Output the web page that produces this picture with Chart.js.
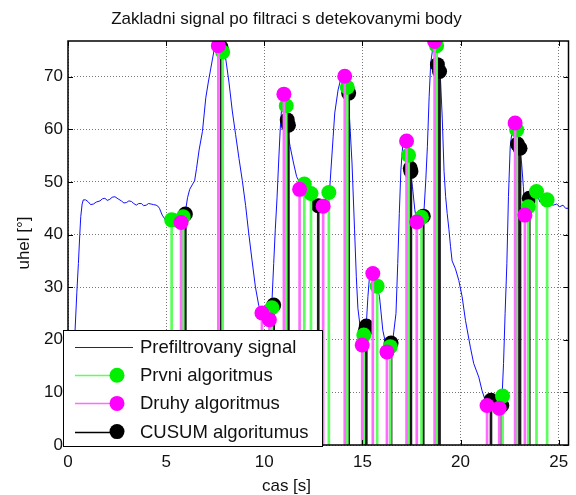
<!DOCTYPE html>
<html>
<head>
<meta charset="utf-8">
<script src="https://cdn.jsdelivr.net/npm/chart.js@4.4.1/dist/chart.umd.min.js"></script>
<style>
  html, body { margin: 0; padding: 0; background: #fff; }
</style>
</head>
<body>
<canvas id="chart" width="576" height="495"></canvas>
<script>
// Prefiltered signal: time [s] and angle [deg]
const sigTime = [
  0.05, 0.2, 0.36, 0.45, 0.53, 0.6, 0.65, 0.72, 0.78, 0.9,
  1.04, 1.15, 1.29, 1.45, 1.63, 1.75, 1.88, 2.0, 2.13, 2.25,
  2.39, 2.55, 2.72, 2.85, 2.98, 3.1, 3.23, 3.35, 3.48, 3.6,
  3.74, 3.85, 3.99, 4.1, 4.24, 4.35, 4.49, 4.58, 4.66, 4.8,
  5.0, 5.15, 5.3, 5.45, 5.6, 5.76, 5.9, 6.0, 6.09, 6.2,
  6.35, 6.45, 6.55, 6.68, 6.85, 7.02, 7.15, 7.27, 7.44, 7.6,
  7.72, 7.85, 8.03, 8.2, 8.37, 8.54, 8.71, 8.88, 9.05, 9.2,
  9.38, 9.55, 9.72, 9.88, 10.05, 10.2, 10.32, 10.4, 10.48, 10.56,
  10.65, 10.73, 10.81, 10.9, 10.98, 11.05, 11.15, 11.32, 11.49, 11.65,
  11.82, 11.95, 12.08, 12.2, 12.33, 12.45, 12.58, 12.75, 12.88, 13.0,
  13.1, 13.17, 13.34, 13.42, 13.51, 13.59, 13.76, 13.93, 14.1, 14.2,
  14.27, 14.35, 14.47, 14.6, 14.69, 14.77, 14.9, 15.0, 15.1, 15.2,
  15.28, 15.36, 15.5, 15.6, 15.75, 15.87, 16.04, 16.2, 16.3, 16.42,
  16.55, 16.71, 16.8, 16.88, 16.96, 17.05, 17.2, 17.3, 17.42, 17.55,
  17.67, 17.77, 17.9, 18.05, 18.14, 18.23, 18.31, 18.4, 18.48, 18.62,
  18.7, 18.82, 18.98, 19.07, 19.16, 19.24, 19.32, 19.41, 19.49, 19.57,
  19.74, 19.91, 20.08, 20.25, 20.5, 20.67, 20.93, 21.09, 21.3, 21.45,
  21.6, 21.8, 21.97, 22.1, 22.19, 22.27, 22.36, 22.44, 22.53, 22.65,
  22.78, 22.9, 23.03, 23.11, 23.2, 23.28, 23.36, 23.45, 23.6, 23.75,
  23.87, 24.04, 24.2, 24.41, 24.55, 24.72, 24.9, 25.05, 25.22, 25.35,
  25.5
];
const sigAngle = [
  0.5, 6, 21.8, 29, 34.5, 40, 43.4, 45.8, 46.6, 46.6,
  46.2, 45.7, 45.8, 46.2, 46.4, 46.8, 46.9, 46.5, 46.7, 47.1,
  47.2, 46.8, 46.4, 46.0, 46.1, 46.4, 46.3, 45.9, 45.6, 45.9,
  45.9, 45.5, 45.6, 45.9, 45.8, 45.7, 45.6, 45.4, 45.0, 43.7,
  42.6, 42.4, 43.3, 44.0, 43.4, 42.6, 43.6, 44.8, 47.0, 48.6,
  49.6, 50.2, 52.6, 56.1, 59.6, 66.0, 69.0, 71.5, 75.0, 76.0,
  76.3, 75.6, 73.6, 69.0, 63.5, 59.0, 54.5, 50.3, 45.5, 40.5,
  35.0, 30.0, 26.5, 25.0, 24.0, 23.7, 25.0, 28.0, 34.5, 40.9,
  47.0, 53.6, 59.9, 65.0, 66.9, 65.5, 60.5, 56.7, 53.6, 51.0,
  49.8, 49.5, 49.1, 48.6, 47.8, 47.0, 46.2, 45.6, 45.5, 45.6,
  46.3, 47.2, 49.1, 53.6, 58.6, 63.1, 67.5, 70.1, 70.7, 68.8,
  66.0, 61.8, 53.6, 40.9, 32.0, 26.0, 22.0, 19.3, 20.5, 23.0,
  28.2, 32.0, 32.8, 31.5, 30.0, 28.2, 21.8, 19.0, 17.9, 18.5,
  20.0, 25.0, 34.5, 44.0, 52.3, 56.7, 57.8, 56.0, 52.5, 49.1,
  44.7, 42.5, 42.8, 43.5, 44.7, 50.4, 56.7, 66.2, 72.6, 76.4,
  76.7, 74.0, 69.4, 62.0, 52.0, 47.2, 44.0, 40.9, 37.7, 35.0,
  33.5, 31.3, 28.2, 23.7, 18.6, 15.5, 12.9, 10.4, 8.0, 7.6,
  8.2, 7.5, 7.0, 8.0, 15.5, 25.0, 34.5, 47.2, 56.7, 60.5,
  61.0, 57.5, 56.0, 53.6, 49.1, 44.5, 44.0, 45.3, 47.5, 48.5,
  48.0, 46.2, 46.5, 46.4, 45.8, 45.6, 45.8, 45.3, 45.6, 45.0,
  45.0
];

// detected points
const prvniTime  = [5.28, 5.87, 7.88, 10.39, 11.12, 12.04, 12.38, 13.29, 14.23, 15.07,
                    15.75, 16.42, 17.35, 18.01, 18.78, 22.14, 22.86, 23.45, 23.87, 24.41];
const prvniAngle = [42.8, 43.4, 74.7, 26.1, 64.5, 49.6, 47.8, 48.0, 68.0, 20.9,
                    30.2, 18.7, 55.1, 43.3, 75.9, 9.3, 59.9, 45.3, 48.2, 46.6];

const druhyTime  = [5.76, 7.66, 9.88, 10.26, 11.0, 11.8, 13.0, 14.1, 14.99, 15.53,
                    16.25, 17.25, 17.77, 18.68, 21.35, 21.97, 22.78, 23.28];
const druhyAngle = [42.3, 75.9, 25.1, 23.8, 66.7, 48.6, 45.4, 70.1, 19.0, 32.6,
                    17.7, 57.8, 42.4, 76.7, 7.5, 7.0, 61.2, 43.7];

const cusumTime  = [5.98, 7.8, 10.48, 11.17, 11.23, 12.75, 14.3, 15.15, 15.2, 16.46,
                    17.44, 17.47, 18.1, 18.82, 18.93, 21.55, 22.1, 22.9, 23.03, 23.5];
const cusumAngle = [43.9, 75.6, 26.6, 61.8, 60.8, 45.5, 66.9, 21.8, 22.6, 19.4,
                    52.6, 52.0, 43.5, 72.3, 71.0, 8.5, 7.5, 57.2, 56.4, 46.9];

const xTicks = [0, 5, 10, 15, 20, 25];
const yTicks = [0, 10, 20, 30, 40, 50, 60, 70];
const seriesNames = ['Prefiltrovany signal', 'Prvni algoritmus', 'Druhy algoritmus', 'CUSUM algoritumus'];

const FONT = '"Liberation Sans", Arial, sans-serif';
Chart.defaults.font.family = FONT;
Chart.defaults.color = '#111';

const C_SIG = '#1010ff', C_G = '#00f000', C_M = '#ff00ff', C_K = '#000';

function pts(xs, ys) { return xs.map((x, i) => ({ x: x, y: ys[i] })); }

function stems(xs, ys, color, order) {
  return { type: 'bar', data: pts(xs, ys), backgroundColor: color, borderWidth: 0,
           barThickness: 2, grouped: false, order: order };
}
function marks(xs, ys, color, order) {
  return { type: 'scatter', data: pts(xs, ys), showLine: false, pointRadius: 7.5,
           pointHoverRadius: 7.5, pointBackgroundColor: color, pointBorderWidth: 0, order: order };
}

// box with inward ticks, matlab style
const axesBox = {
  id: 'axesBox',
  afterDatasetsDraw(chart) {
    const { ctx, chartArea: a, scales: { x, y } } = chart;
    ctx.save();
    ctx.strokeStyle = '#000';
    ctx.lineWidth = 1;
    ctx.beginPath();
    xTicks.forEach(v => {
      const px = Math.round(x.getPixelForValue(v)) + 0.5;
      ctx.moveTo(px, a.bottom); ctx.lineTo(px, a.bottom - 5);
      ctx.moveTo(px, a.top); ctx.lineTo(px, a.top + 5);
    });
    yTicks.forEach(v => {
      const py = Math.round(y.getPixelForValue(v)) + 0.5;
      ctx.moveTo(a.left, py); ctx.lineTo(a.left + 5, py);
      ctx.moveTo(a.right, py); ctx.lineTo(a.right - 5, py);
    });
    ctx.stroke();
    ctx.lineWidth = 1.5;
    ctx.strokeRect(a.left, a.top, a.right - a.left, a.bottom - a.top);
    ctx.restore();
  }
};

// legend in the lower left corner of the axes
const legendBox = {
  id: 'legendBox',
  afterDraw(chart) {
    const ctx = chart.ctx;
    const L = 63, T = 330, W = 259, H = 116;
    const colors = [C_SIG, '#5cff5c', '#ff6bff', C_K];
    const dots = [null, C_G, C_M, C_K];
    ctx.save();
    ctx.fillStyle = '#fff';
    ctx.fillRect(L, T, W, H);
    ctx.strokeStyle = '#000';
    ctx.lineWidth = 1;
    ctx.strokeRect(L + 0.5, T + 0.5, W, H);
    ctx.font = '18.5px ' + FONT;
    ctx.textBaseline = 'middle';
    seriesNames.forEach((name, i) => {
      const yy = T + 17 + i * 28.2;
      ctx.strokeStyle = colors[i];
      ctx.lineWidth = i === 0 ? 1 : 1.5;
      ctx.beginPath();
      ctx.moveTo(L + 12, Math.round(yy) + 0.5);
      ctx.lineTo(i === 0 ? L + 70 : L + 54, Math.round(yy) + 0.5);
      ctx.stroke();
      if (dots[i]) {
        ctx.fillStyle = dots[i];
        ctx.beginPath();
        ctx.arc(L + 54, yy, 7.5, 0, Math.PI * 2);
        ctx.fill();
      }
      ctx.fillStyle = '#111';
      ctx.fillText(name, L + 77, yy + 1);
    });
    ctx.restore();
  }
};

new Chart(document.getElementById('chart'), {
  type: 'scatter',
  data: {
    datasets: [
      { type: 'line', data: pts(sigTime, sigAngle), borderColor: C_SIG, borderWidth: 1,
        pointRadius: 0, tension: 0, order: 10 },
      stems(cusumTime, cusumAngle, '#1a1a1a', 9),
      marks(cusumTime, cusumAngle, C_K, 8),
      stems(prvniTime, prvniAngle, '#5cff5c', 7),
      marks(prvniTime, prvniAngle, C_G, 6),
      stems(druhyTime, druhyAngle, '#ff6bff', 5),
      marks(druhyTime, druhyAngle, C_M, 4)
    ]
  },
  options: {
    responsive: false, animation: false, events: [],
    layout: { padding: { left: 0, right: 3, top: 0, bottom: 0 } },
    plugins: {
      legend: { display: false },
      tooltip: { enabled: false },
      title: { display: true, text: 'Zakladni signal po filtraci s detekovanymi body',
        color: '#111', font: { size: 17, weight: 'normal' }, padding: { top: 9, bottom: 11.6 } },
      subtitle: { display: true, position: 'bottom', text: 'cas [s]', color: '#111',
        font: { size: 17, weight: 'normal', lineHeight: 1 }, padding: { top: 8, bottom: 0 } }
    },
    scales: {
      x: {
        type: 'linear', min: 0, max: 25.5, offset: false,
        afterBuildTicks: s => { s.ticks = xTicks.map(v => ({ value: v })); },
        afterFit: s => { s.height = 25; },
        ticks: { font: { size: 17 }, padding: 7, maxRotation: 0 },
        grid: { color: '#777', lineWidth: 1, drawTicks: false, offset: false },
        border: { display: false, dash: [1, 2] }
      },
      y: {
        type: 'linear', min: 0, max: 76.8,
        afterBuildTicks: s => { s.ticks = yTicks.map(v => ({ value: v })); },
        afterFit: s => { s.width = 68; },
        ticks: { font: { size: 17 }, padding: 5 },
        grid: { color: '#777', lineWidth: 1, drawTicks: false },
        border: { display: false, dash: [1, 2] },
        title: { display: true, text: 'uhel [°]', font: { size: 17 }, padding: { top: 14, bottom: 0 } }
      }
    }
  },
  plugins: [axesBox, legendBox]
});
</script>
</body>
</html>
